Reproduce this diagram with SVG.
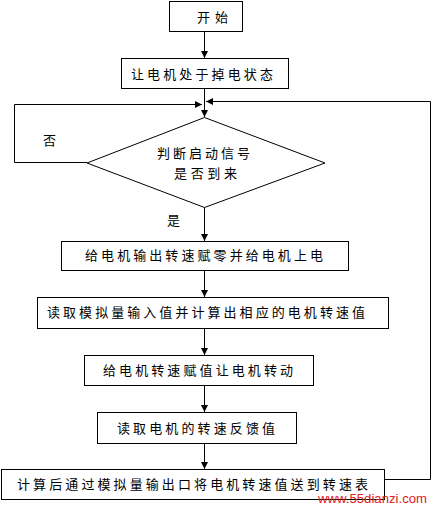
<svg xmlns="http://www.w3.org/2000/svg" width="433" height="511" viewBox="0 0 433 511">
<style>
.box{fill:#fff;stroke:#000;stroke-width:1}
.ln{fill:none;stroke:#000;stroke-width:1}
.t{font-family:"Noto Sans CJK SC","Liberation Serif",sans-serif;font-size:13px;fill:#000}
.wm{font-family:"Liberation Sans",Arial,sans-serif;font-size:13px;fill:#e0201c}
</style>
<defs>
<marker id="ah" markerWidth="8" markerHeight="8" refX="7" refY="4" orient="auto" markerUnits="userSpaceOnUse">
<path d="M0,0.5 L7,4 L0,7.5 Z" fill="#000"/>
</marker>
</defs>
<rect width="433" height="511" fill="#fff"/>
<g id="connectors">
<line class="ln" x1="204.5" y1="31" x2="204.5" y2="58" marker-end="url(#ah)"/>
<line class="ln" x1="204.5" y1="88" x2="204.5" y2="117" marker-end="url(#ah)"/>
<polyline class="ln" points="87,162.5 14.5,162.5 14.5,104.5 202,104.5" marker-end="url(#ah)"/>
<polyline class="ln" points="384,479.5 430.5,479.5 430.5,101.5 206,101.5" marker-end="url(#ah)"/>
<line class="ln" x1="204.5" y1="207" x2="204.5" y2="241" marker-end="url(#ah)"/>
<line class="ln" x1="204.5" y1="270" x2="204.5" y2="297" marker-end="url(#ah)"/>
<line class="ln" x1="204.5" y1="328" x2="204.5" y2="355" marker-end="url(#ah)"/>
<line class="ln" x1="204.5" y1="385" x2="204.5" y2="412" marker-end="url(#ah)"/>
<line class="ln" x1="204.5" y1="443" x2="204.5" y2="469" marker-end="url(#ah)"/>
<text class="t" x="43" y="145">否</text>
<text class="t" x="167" y="225">是</text>
</g>
<g id="start">
<rect class="box" x="169.5" y="1.5" width="73" height="30"/>
<text class="t" x="197" y="22" textLength="31" lengthAdjust="spacing">开始</text>
</g>
<g id="power-off">
<rect class="box" x="121.5" y="58.5" width="167" height="30"/>
<text class="t" x="131" y="79" textLength="142" lengthAdjust="spacing">让电机处于掉电状态</text>
</g>
<g id="decision">
<polygon class="box" points="204.5,117.5 325,163 204.5,207.5 87,163"/>
<text class="t" x="157" y="158" textLength="93" lengthAdjust="spacing">判断启动信号</text>
<text class="t" x="174" y="178" textLength="63" lengthAdjust="spacing">是否到来</text>
</g>
<g id="power-on">
<rect class="box" x="61.5" y="241.5" width="287" height="29"/>
<text class="t" x="85" y="260" textLength="238" lengthAdjust="spacing">给电机输出转速赋零并给电机上电</text>
</g>
<g id="read-input">
<rect class="box" x="37.5" y="297.5" width="351" height="31"/>
<text class="t" x="47" y="317" textLength="318" lengthAdjust="spacing">读取模拟量输入值并计算出相应的电机转速值</text>
</g>
<g id="set-speed">
<rect class="box" x="84.5" y="355.5" width="229" height="30"/>
<text class="t" x="103" y="375" textLength="190" lengthAdjust="spacing">给电机转速赋值让电机转动</text>
</g>
<g id="read-feedback">
<rect class="box" x="97.5" y="412.5" width="199" height="31"/>
<text class="t" x="117" y="433" textLength="158" lengthAdjust="spacing">读取电机的转速反馈值</text>
</g>
<g id="output">
<rect class="box" x="1.5" y="469.5" width="383" height="30"/>
<text class="t" x="17" y="489" textLength="351" lengthAdjust="spacing">计算后通过模拟量输出口将电机转速值送到转速表</text>
</g>
<text class="wm" x="318" y="503" textLength="109" lengthAdjust="spacingAndGlyphs">www.55dianzi.com</text>
</svg>
